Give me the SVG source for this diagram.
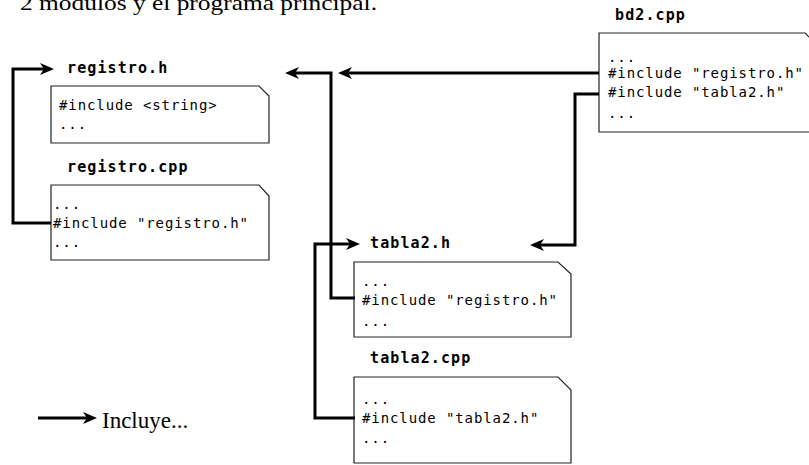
<svg xmlns="http://www.w3.org/2000/svg" width="809" height="465" viewBox="0 0 809 465">
<style>
.box{fill:#fff;stroke:#222;stroke-width:1.2}
.lbl{font-family:"DejaVu Sans Mono","Liberation Mono",monospace;font-weight:bold;font-size:15px;letter-spacing:1.1px;fill:#000}
.code{font-family:"DejaVu Sans Mono","Liberation Mono",monospace;font-size:14px;letter-spacing:0.9px;fill:#000}
.conn{fill:none;stroke:#000;stroke-width:3;stroke-linejoin:miter}
.serif{font-family:"Liberation Serif","DejaVu Serif",serif;fill:#000}
</style>
<defs>
<marker id="arr" markerUnits="userSpaceOnUse" markerWidth="16" markerHeight="14" viewBox="0 0 16 14" refX="7" refY="7" orient="auto">
<path d="M1,1 L15,7 L1,13 L5,7 Z" fill="#000"/>
</marker>
</defs>
<rect width="809" height="465" fill="#fff"/>
<text class="serif" x="20" y="10" font-size="22" textLength="357" lengthAdjust="spacingAndGlyphs">2 módulos y el programa principal.</text>

<g id="registro_h">
<text class="lbl" x="67" y="73">registro.h</text>
<path class="box" d="M51,86 H259 L269,96 V143 H51 Z"/>
<text class="code" x="59" y="110">#include &lt;string&gt;</text>
<text class="code" x="59" y="129">...</text>
</g>

<g id="registro_cpp">
<text class="lbl" x="67" y="172">registro.cpp</text>
<path class="box" d="M51,185 H259 L269,196 V260 H51 Z"/>
<text class="code" x="53" y="209">...</text>
<text class="code" x="53" y="228">#include "registro.h"</text>
<text class="code" x="53" y="247">...</text>
</g>

<g id="bd2_cpp">
<text class="lbl" x="615" y="20">bd2.cpp</text>
<path class="box" d="M599,33 H805 L816,44 V132 H599 Z"/>
<text class="code" x="608" y="62">...</text>
<text class="code" x="608" y="78">#include "registro.h"</text>
<text class="code" x="608" y="97">#include "tabla2.h"</text>
<text class="code" x="608" y="118">...</text>
</g>

<g id="tabla2_h">
<text class="lbl" x="370" y="248">tabla2.h</text>
<path class="box" d="M354,262 H558 L571,274 V337 H354 Z"/>
<text class="code" x="362" y="286">...</text>
<text class="code" x="362" y="305">#include "registro.h"</text>
<text class="code" x="362" y="326">...</text>
</g>

<g id="tabla2_cpp">
<text class="lbl" x="370" y="363">tabla2.cpp</text>
<path class="box" d="M354,377 H558 L571,390 V463 H354 Z"/>
<text class="code" x="362" y="404">...</text>
<text class="code" x="362" y="423">#include "tabla2.h"</text>
<text class="code" x="362" y="443">...</text>
</g>

<g id="connectors">
<path class="conn" marker-end="url(#arr)" d="M51,223 H13 V69 H46"/>
<path class="conn" marker-end="url(#arr)" d="M355,298 H331 V73 H293"/>
<path class="conn" marker-end="url(#arr)" d="M599,73 H346"/>
<path class="conn" marker-end="url(#arr)" d="M599,94 H575 V245 H538"/>
<path class="conn" marker-end="url(#arr)" d="M355,418 H315 V244 H352"/>
</g>

<g id="legend">
<path class="conn" marker-end="url(#arr)" d="M38,418 H89"/>
<text class="serif" x="102" y="428" font-size="23">Incluye...</text>
</g>
</svg>
